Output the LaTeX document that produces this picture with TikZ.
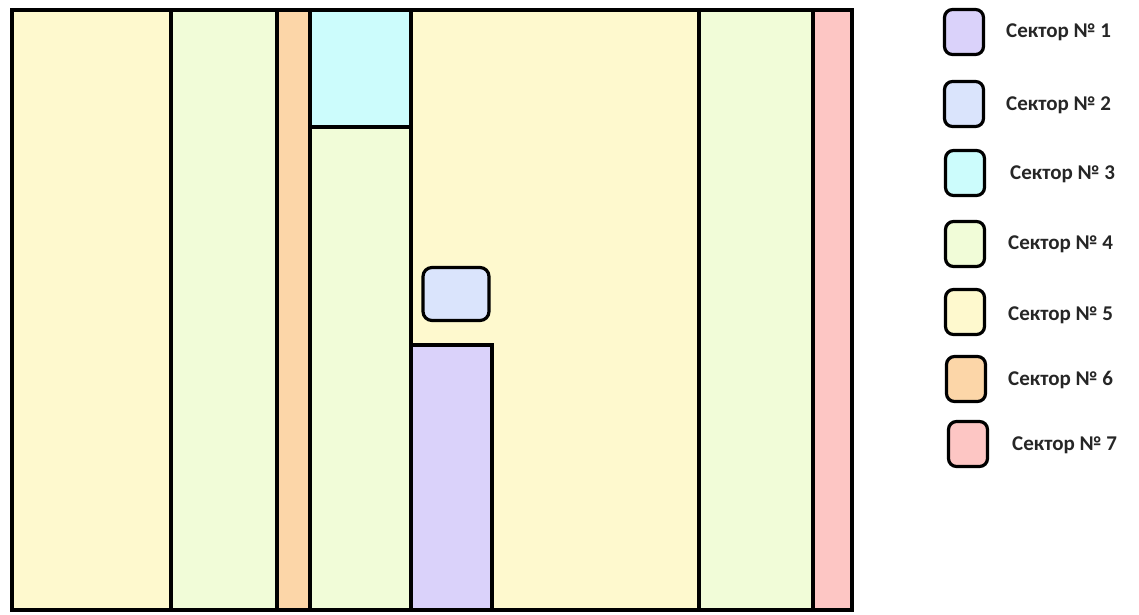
\documentclass[tikz,border=0pt]{standalone}
\usepackage{fontspec}
\setmainfont{Carlito}
\definecolor{sOne}{HTML}{DAD2FA}
\definecolor{sTwo}{HTML}{DAE4FC}
\definecolor{sThree}{HTML}{CCFCFC}
\definecolor{sFour}{HTML}{F1FCD8}
\definecolor{sFive}{HTML}{FEF9CE}
\definecolor{sSix}{HTML}{FCD6A8}
\definecolor{sSeven}{HTML}{FDC6C4}
\tikzset{
  region/.style={draw=black, line width=3.5pt},
  legbox/.style={draw=black, line width=3.2pt, rounded corners=8pt, minimum width=39pt, minimum height=45pt, inner sep=0pt},
  legtext/.style={anchor=west, font=\bfseries\fontsize{21}{23}\selectfont, text=black!85, inner sep=0pt}
}
\begin{document}
\begin{tikzpicture}[x=1pt,y=-1pt]
\useasboundingbox (0,0) rectangle (1139,614);
% regions
\filldraw[region, fill=sFive] (12,10) rectangle (171,610);
\filldraw[region, fill=sFour] (171,10) rectangle (277,610);
\filldraw[region, fill=sSix] (277,10) rectangle (310,610);
\filldraw[region, fill=sThree] (310,10) rectangle (411,127);
\filldraw[region, fill=sFour] (310,127) rectangle (411,610);
\filldraw[region, fill=sFive] (411,10) rectangle (699,610);
\filldraw[region, fill=sOne] (411,345) rectangle (492,610);
\filldraw[region, fill=sFour] (699,10) rectangle (813,610);
\filldraw[region, fill=sSeven] (813,10) rectangle (852,610);
\draw[region] (12,10) rectangle (852,610);
\node[legbox, fill=sTwo, minimum width=66pt, minimum height=53pt, rounded corners=9pt] (inner2) at (456,294) {};
% legend
\node[legbox, fill=sOne] (b1) at (964,32) {};
\node[legbox, fill=sTwo] (b2) at (964,104) {};
\node[legbox, fill=sThree] (b3) at (965,173) {};
\node[legbox, fill=sFour] (b4) at (965,244) {};
\node[legbox, fill=sFive] (b5) at (965,312) {};
\node[legbox, fill=sSix] (b6) at (966,379) {};
\node[legbox, fill=sSeven] (b7) at (968,444) {};
\node[legtext] (t1) at (1006,32) {Сектор № 1};
\node[legtext] (t2) at (1006,105) {Сектор № 2};
\node[legtext] (t3) at (1010,174) {Сектор № 3};
\node[legtext] (t4) at (1008,244) {Сектор № 4};
\node[legtext] (t5) at (1008,315) {Сектор № 5};
\node[legtext] (t6) at (1008,380) {Сектор № 6};
\node[legtext] (t7) at (1012,445) {Сектор № 7};
\end{tikzpicture}
\end{document}
